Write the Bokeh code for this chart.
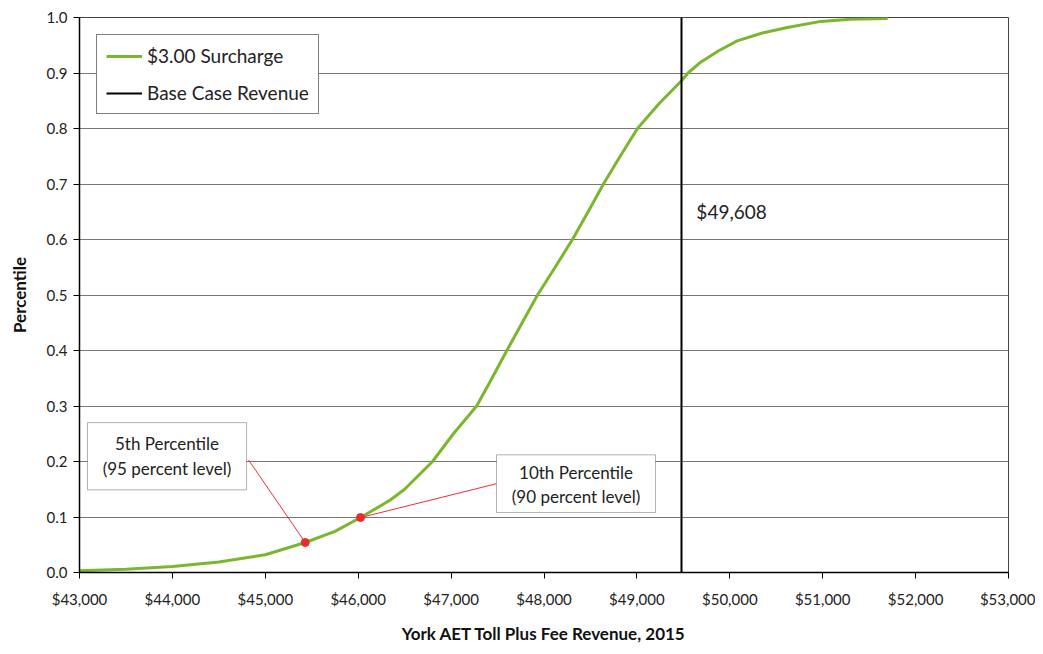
from bokeh.plotting import figure
from bokeh.embed import file_html
from bokeh.resources import INLINE
from bokeh.models import (NumeralTickFormatter, FixedTicker, Legend, LegendItem,
                          BoxAnnotation, Label, Range1d)

# ---- data ----
revenue = [43000, 43500, 44000, 44500, 45000, 45430, 45750, 46025, 46350, 46500,
           46800, 47025, 47275, 47440, 47600, 47765, 47930, 48120, 48306, 48475,
           48640, 48820, 49006, 49240, 49480, 49550, 49690, 49880, 50080, 50350,
           50620, 50980, 51300, 51700]
percentile = [0.003, 0.006, 0.011, 0.019, 0.032, 0.054, 0.074, 0.099, 0.131, 0.150,
              0.200, 0.250, 0.300, 0.350, 0.400, 0.450, 0.500, 0.550, 0.600, 0.650,
              0.700, 0.750, 0.800, 0.845, 0.886, 0.900, 0.920, 0.940, 0.958, 0.972,
              0.982, 0.993, 0.997, 0.998]
base_case_x = 49480
base_case_label = "$49,608"
marker_x = [45430, 46025]
marker_y = [0.054, 0.099]
x_ticks = [43000, 44000, 45000, 46000, 47000, 48000, 49000, 50000, 51000, 52000, 53000]
y_ticks = [0.0, 0.1, 0.2, 0.3, 0.4, 0.5, 0.6, 0.7, 0.8, 0.9, 1.0]

FONT = "Lato"

p = figure(width=1035, height=646, output_backend="svg", toolbar_location=None,
           x_range=Range1d(43000, 53000), y_range=Range1d(0, 1.0),
           min_border_left=79, min_border_right=27, min_border_top=17, min_border_bottom=73)
p.background_fill_color = "white"
p.border_fill_color = "white"
p.outline_line_color = "#444444"
p.outline_line_width = 1

# axes
p.xaxis.ticker = FixedTicker(ticks=x_ticks)
p.yaxis.ticker = FixedTicker(ticks=y_ticks)
p.xaxis.formatter = NumeralTickFormatter(format="$0,0")
p.yaxis.formatter = NumeralTickFormatter(format="0.0")
for ax in (p.xaxis, p.yaxis):
    ax.axis_line_color = "black"
    ax.axis_line_width = 1.5
    ax.major_tick_line_color = "black"
    ax.major_tick_out = 6
    ax.major_tick_in = 0
    ax.minor_tick_line_color = None
    ax.major_label_text_font = FONT
    ax.major_label_text_font_size = "15px"
    ax.major_label_text_color = "#222222"
    ax.axis_label_text_font = FONT
    ax.axis_label_text_font_style = "bold"
    ax.axis_label_text_font_size = "17px"
    ax.axis_label_text_color = "#111111"
p.xaxis.axis_label = "York AET Toll Plus Fee Revenue, 2015"
p.yaxis.axis_label = "Percentile"
p.xaxis.major_label_standoff = 11
p.xaxis.axis_label_standoff = 12
p.yaxis.major_label_standoff = 6
p.yaxis.axis_label_standoff = 14

p.xgrid.grid_line_color = None
p.ygrid.grid_line_color = "#555555"
p.ygrid.grid_line_width = 1
p.ygrid.grid_line_alpha = 0.8

# curve and base case line
curve = p.line(revenue, percentile, line_color="#7ab72f", line_width=3)
base = p.line([base_case_x, base_case_x], [0, 1.0], line_color="black", line_width=2)

# leader lines
p.segment(x0=[44819, 47489], y0=[0.203, 0.160], x1=marker_x, y1=marker_y,
          line_color="#e8303a", line_width=1)
p.scatter(marker_x, marker_y, size=8, fill_color="#ee2a2a", line_color="#ee2a2a")

# annotation boxes
for (l, r, b, t) in [(43086, 44798, 0.149, 0.270), (47489, 49200, 0.108, 0.212)]:
    p.add_layout(BoxAnnotation(left=l, right=r, bottom=b, top=t, fill_color="white",
                               fill_alpha=1.0, line_color="black", line_width=1))
LBL = dict(text_align="center", text_baseline="middle", text_font=FONT,
           text_font_size="17px", text_color="#222222")
p.add_layout(Label(x=43942, y=0.232, text="5th Percentile", **LBL))
p.add_layout(Label(x=43942, y=0.187, text="(95 percent level)", **LBL))
p.add_layout(Label(x=48345, y=0.181, text="10th Percentile", **LBL))
p.add_layout(Label(x=48345, y=0.137, text="(90 percent level)", **LBL))
p.add_layout(Label(x=49640, y=0.650, text=base_case_label, text_align="left",
                   text_baseline="middle", text_font=FONT, text_font_size="19px",
                   text_color="#222222"))

legend = Legend(items=[LegendItem(label="$3.00 Surcharge", renderers=[curve]),
                       LegendItem(label="Base Case Revenue", renderers=[base])],
                location="top_left")
legend.margin = 17
legend.padding = 9
legend.spacing = 14
legend.border_line_color = "black"
legend.border_line_width = 1
legend.background_fill_color = "white"
legend.background_fill_alpha = 1.0
legend.label_text_font = FONT
legend.label_text_font_size = "19px"
legend.label_text_color = "#222222"
legend.glyph_width = 36
legend.label_standoff = 5
legend.label_height = 20
legend.glyph_height = 20
p.add_layout(legend)

open("out.html", "w").write(file_html(p, INLINE))
